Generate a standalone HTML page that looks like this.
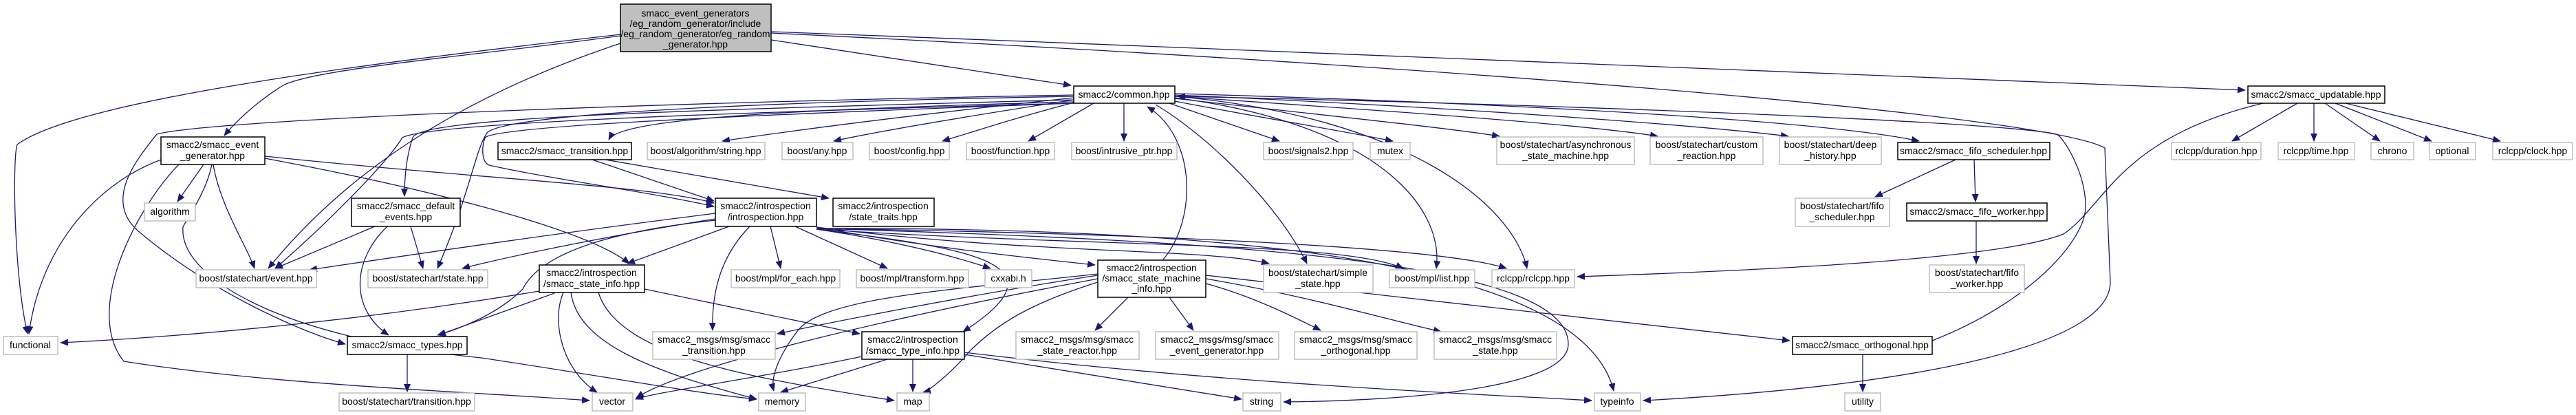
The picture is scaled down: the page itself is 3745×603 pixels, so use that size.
<!DOCTYPE html>
<html><head><meta charset="utf-8"><style>
html,body{margin:0;padding:0;background:#fff}
svg{display:block}
text{font-family:"Liberation Sans",sans-serif;font-size:14px;fill:#000;text-anchor:middle}
.e{fill:none;stroke:#191970;stroke-width:1.3;marker-end:url(#a)}
.n{fill:#fff;stroke:#bfbfbf;stroke-width:1.5}
.d{fill:#fff;stroke:#000;stroke-width:1.5}
</style></head><body>
<svg width="3745" height="603" viewBox="0 0 3745 603" xmlns="http://www.w3.org/2000/svg">
<defs><marker id="a" markerWidth="12" markerHeight="10" refX="11" refY="5" orient="auto" markerUnits="userSpaceOnUse"><path d="M0,0 L12,5 L0,10 z" fill="#191970"/></marker></defs>
<g>
<path class="e" d="M902,50 C600,85 120,140 25,210 C18,230 20,400 40,485"/>
<path class="e" d="M902,52 C700,80 450,100 410,125 C370,150 340,180 326,197"/>
<path class="e" d="M902,63 C700,130 520,230 390,390"/>
<path class="e" d="M1121,58 L1557,124"/>
<path class="e" d="M1121,46 C2000,80 3000,115 3264,131"/>
<path class="e" d="M1121,48 C2200,100 2980,170 3060,215 L3068,410 C3068,500 2800,560 2389,582"/>
<path class="e" d="M1561,142 C1300,170 1150,190 1050,205"/>
<path class="e" d="M1561,145 C1400,170 1280,190 1212,205"/>
<path class="e" d="M1565,148 C1480,170 1420,190 1370,205"/>
<path class="e" d="M1590,150 L1495,205"/>
<path class="e" d="M1634,150 L1634,205"/>
<path class="e" d="M1700,150 L1860,205"/>
<path class="e" d="M1708,147 C1800,165 1950,190 2025,205"/>
<path class="e" d="M1708,143 C1900,165 2100,185 2180,198"/>
<path class="e" d="M1708,140 C2000,160 2300,180 2410,198"/>
<path class="e" d="M1708,138 C2100,155 2450,180 2600,198"/>
<path class="e" d="M1708,136 C2200,150 2650,175 2790,205"/>
<path class="e" d="M1680,152 C1760,200 1860,300 1900,383"/>
<path class="e" d="M1708,142 C2000,180 2100,300 2088,390"/>
<path class="e" d="M1708,140 C2050,170 2200,300 2220,390"/>
<path class="e" d="M1691,377 C1740,320 1740,200 1668,155"/>
<path class="e" d="M2809,495 C2950,440 3032,350 3032,300 C3032,250 3000,200 2990,195 C2900,175 2200,150 1712,140"/>
<path class="e" d="M3290,150 C3080,200 3060,300 3000,340 C2900,380 2500,395 2293,402"/>
<path class="e" d="M3340,150 L3245,205"/>
<path class="e" d="M3364,150 L3364,205"/>
<path class="e" d="M3380,150 L3460,205"/>
<path class="e" d="M3395,150 L3535,205"/>
<path class="e" d="M3410,150 L3635,205"/>
<path class="e" d="M2843,232 L2726,286"/>
<path class="e" d="M2870,232 L2872,293"/>
<path class="e" d="M2873,321 L2873,383"/>
<path class="e" d="M1561,148 C1100,160 900,175 885,203"/>
<path class="e" d="M1561,145 C1000,160 610,170 600,200 C590,230 588,260 588,285"/>
<path class="e" d="M1561,150 C1000,165 620,180 585,200 C560,240 470,330 400,390"/>
<path class="e" d="M1561,140 C1000,150 730,170 708,193 C690,220 684,280 636,390"/>
<path class="e" d="M1561,138 C900,150 300,175 228,195 C200,230 150,290 200,335 C300,420 430,480 502,500"/>
<path class="e" d="M1561,150 C1000,170 720,185 705,200 C700,215 700,235 711,240 C800,260 950,280 1038,300"/>
<path class="e" d="M880,232 L1205,288"/>
<path class="e" d="M861,232 L1038,292"/>
<path class="e" d="M240,230 C150,260 60,350 42,485"/>
<path class="e" d="M296,239 L258,293"/>
<path class="e" d="M310,239 C320,300 360,360 370,390"/>
<path class="e" d="M260,239 C200,300 120,450 180,525 C400,560 700,570 857,582"/>
<path class="e" d="M308,239 C300,280 270,320 266,330 C260,400 400,490 700,520 C900,550 1000,570 1100,580"/>
<path class="e" d="M385,227 C700,260 950,270 1038,295"/>
<path class="e" d="M385,230 C600,270 850,330 915,383"/>
<path class="e" d="M545,329 L400,390"/>
<path class="e" d="M597,329 L615,390"/>
<path class="e" d="M563,329 C510,380 510,450 565,487"/>
<path class="e" d="M1040,310 C800,340 600,370 450,392"/>
<path class="e" d="M1040,318 C900,340 750,370 672,390"/>
<path class="e" d="M1060,329 L912,383"/>
<path class="e" d="M1120,329 L1135,390"/>
<path class="e" d="M1156,329 L1290,390"/>
<path class="e" d="M1187,333 C1300,350 1380,370 1440,390"/>
<path class="e" d="M1187,330 C1350,360 1500,375 1592,385"/>
<path class="e" d="M1187,330 C1500,370 1750,360 1845,383"/>
<path class="e" d="M1187,333 C1600,360 1950,350 2040,390"/>
<path class="e" d="M1187,332 C1700,340 2100,360 2190,390"/>
<path class="e" d="M1090,329 C1040,380 1035,440 1036,480"/>
<path class="e" d="M1187,333 C1400,360 1560,380 1400,482"/>
<path class="e" d="M1040,320 C850,340 780,380 760,420 C720,460 660,480 636,487"/>
<path class="e" d="M806,426 L637,487"/>
<path class="e" d="M1187,332 C1800,350 2280,380 2280,500 C2280,570 2000,583 1866,584"/>
<path class="e" d="M1187,332 C1800,330 2300,380 2346,568"/>
<path class="e" d="M1596,400 C1400,430 1200,470 1130,485"/>
<path class="e" d="M1596,398 C1400,420 1200,430 1160,480 C1130,520 1120,550 1125,568"/>
<path class="e" d="M1596,410 C1500,440 1450,470 1410,510 C1380,545 1350,568 1342,570"/>
<path class="e" d="M1640,432 L1592,480"/>
<path class="e" d="M1700,432 L1735,480"/>
<path class="e" d="M1753,412 C1820,430 1880,460 1920,480"/>
<path class="e" d="M1753,405 C1900,430 2000,460 2095,482"/>
<path class="e" d="M1753,400 C2000,430 2400,470 2602,495"/>
<path class="e" d="M1596,405 C1300,460 1000,530 925,578"/>
<path class="e" d="M784,423 C500,470 250,490 88,498"/>
<path class="e" d="M819,425 C800,470 820,540 868,570"/>
<path class="e" d="M830,425 C840,500 950,540 1100,580"/>
<path class="e" d="M937,420 L1250,485"/>
<path class="e" d="M870,425 C900,520 1100,550 1300,582"/>
<path class="e" d="M592,515 L592,569"/>
<path class="e" d="M1290,522 L1135,570"/>
<path class="e" d="M1327,522 L1327,569"/>
<path class="e" d="M1253,518 C1100,550 950,570 924,580"/>
<path class="e" d="M1402,515 L1805,580"/>
<path class="e" d="M1402,512 C1800,560 2200,575 2314,582"/>
<path class="e" d="M2708,515 L2708,569"/>
</g>
<g>
<rect x="902" y="6" width="219" height="69" fill="#bfbfbf" stroke="#000" stroke-width="1.5"/>
<text x="1011" y="24">smacc_event_generators</text><text x="1011" y="39">/eg_random_generator/include</text><text x="1011" y="54">/eg_random_generator/eg_random</text><text x="1011" y="69">_generator.hpp</text>
<rect class="d" x="234" y="199" width="151" height="40"/><text x="309" y="215">smacc2/smacc_event</text><text x="309" y="231">_generator.hpp</text>
<rect class="d" x="724" y="207" width="194" height="25"/><text x="821" y="224">smacc2/smacc_transition.hpp</text>
<rect class="d" x="511" y="288" width="158" height="41"/><text x="590" y="304">smacc2/smacc_default</text><text x="590" y="320">_events.hpp</text>
<rect class="n" x="210" y="295" width="74" height="26"/><text x="247" y="312">algorithm</text>
<rect class="n" x="285" y="392" width="175" height="26"/><text x="372" y="409">boost/statechart/event.hpp</text>
<rect class="n" x="535" y="392" width="174" height="26"/><text x="622" y="409">boost/statechart/state.hpp</text>
<rect class="d" x="784" y="385" width="153" height="40"/><text x="860" y="401">smacc2/introspection</text><text x="860" y="417">/smacc_state_info.hpp</text>
<rect class="n" x="5" y="489" width="79" height="26"/><text x="44" y="506">functional</text>
<rect class="d" x="505" y="489" width="174" height="26"/><text x="592" y="506">smacc2/smacc_types.hpp</text>
<rect class="n" x="493" y="571" width="197" height="26"/><text x="591" y="588">boost/statechart/transition.hpp</text>
<rect class="n" x="861" y="571" width="59" height="26"/><text x="890" y="588">vector</text>
<rect class="d" x="1561" y="125" width="147" height="25"/><text x="1634" y="142">smacc2/common.hpp</text>
<rect class="n" x="941" y="207" width="171" height="25"/><text x="1026" y="224">boost/algorithm/string.hpp</text>
<rect class="n" x="1137" y="207" width="103" height="25"/><text x="1188" y="224">boost/any.hpp</text>
<rect class="n" x="1264" y="207" width="116" height="25"/><text x="1322" y="224">boost/config.hpp</text>
<rect class="n" x="1405" y="207" width="128" height="25"/><text x="1469" y="224">boost/function.hpp</text>
<rect class="n" x="1558" y="207" width="153" height="25"/><text x="1634" y="224">boost/intrusive_ptr.hpp</text>
<rect class="d" x="1040" y="288" width="147" height="41"/><text x="1113" y="304">smacc2/introspection</text><text x="1113" y="320">/introspection.hpp</text>
<rect class="d" x="1211" y="288" width="147" height="41"/><text x="1284" y="304">smacc2/introspection</text><text x="1284" y="320">/state_traits.hpp</text>
<rect class="n" x="1063" y="392" width="158" height="26"/><text x="1142" y="409">boost/mpl/for_each.hpp</text>
<rect class="n" x="1245" y="392" width="163" height="26"/><text x="1326" y="409">boost/mpl/transform.hpp</text>
<rect class="n" x="1432" y="392" width="68" height="26"/><text x="1466" y="409">cxxabi.h</text>
<rect class="d" x="1596" y="378" width="157" height="54"/><text x="1674" y="394">smacc2/introspection</text><text x="1674" y="409">/smacc_state_machine</text><text x="1674" y="424">_info.hpp</text>
<rect class="n" x="949" y="482" width="178" height="40"/><text x="1038" y="498">smacc2_msgs/msg/smacc</text><text x="1038" y="514">_transition.hpp</text>
<rect class="d" x="1253" y="482" width="149" height="40"/><text x="1327" y="498">smacc2/introspection</text><text x="1327" y="514">/smacc_type_info.hpp</text>
<rect class="n" x="1477" y="482" width="179" height="40"/><text x="1566" y="498">smacc2_msgs/msg/smacc</text><text x="1566" y="514">_state_reactor.hpp</text>
<rect class="n" x="1680" y="482" width="179" height="40"/><text x="1769" y="498">smacc2_msgs/msg/smacc</text><text x="1769" y="514">_event_generator.hpp</text>
<rect class="n" x="1103" y="571" width="68" height="26"/><text x="1137" y="588">memory</text>
<rect class="n" x="1304" y="571" width="47" height="26"/><text x="1327" y="588">map</text>
<rect class="n" x="1807" y="571" width="55" height="26"/><text x="1834" y="588">string</text>
<rect class="n" x="1837" y="207" width="130" height="25"/><text x="1902" y="224">boost/signals2.hpp</text>
<rect class="n" x="1992" y="207" width="58" height="25"/><text x="2021" y="224">mutex</text>
<rect class="n" x="2176" y="199" width="200" height="40"/><text x="2276" y="215">boost/statechart/asynchronous</text><text x="2276" y="231">_state_machine.hpp</text>
<rect class="n" x="2399" y="199" width="164" height="40"/><text x="2481" y="215">boost/statechart/custom</text><text x="2481" y="231">_reaction.hpp</text>
<rect class="n" x="2587" y="199" width="148" height="40"/><text x="2661" y="215">boost/statechart/deep</text><text x="2661" y="231">_history.hpp</text>
<rect class="d" x="2759" y="207" width="221" height="25"/><text x="2869" y="224">smacc2/smacc_fifo_scheduler.hpp</text>
<rect class="n" x="2610" y="288" width="137" height="41"/><text x="2678" y="304">boost/statechart/fifo</text><text x="2678" y="320">_scheduler.hpp</text>
<rect class="d" x="2772" y="295" width="204" height="26"/><text x="2874" y="312">smacc2/smacc_fifo_worker.hpp</text>
<rect class="n" x="1837" y="385" width="159" height="40"/><text x="1916" y="401">boost/statechart/simple</text><text x="1916" y="417">_state.hpp</text>
<rect class="n" x="2020" y="392" width="124" height="26"/><text x="2082" y="409">boost/mpl/list.hpp</text>
<rect class="n" x="2169" y="392" width="120" height="26"/><text x="2229" y="409">rclcpp/rclcpp.hpp</text>
<rect class="n" x="1882" y="482" width="178" height="40"/><text x="1971" y="498">smacc2_msgs/msg/smacc</text><text x="1971" y="514">_orthogonal.hpp</text>
<rect class="n" x="2085" y="482" width="178" height="40"/><text x="2174" y="498">smacc2_msgs/msg/smacc</text><text x="2174" y="514">_state.hpp</text>
<rect class="d" x="2606" y="489" width="203" height="26"/><text x="2707" y="506">smacc2/smacc_orthogonal.hpp</text>
<rect class="n" x="2318" y="571" width="67" height="26"/><text x="2351" y="588">typeinfo</text>
<rect class="n" x="2682" y="571" width="52" height="26"/><text x="2708" y="588">utility</text>
<rect class="d" x="3268" y="125" width="199" height="25"/><text x="3367" y="142">smacc2/smacc_updatable.hpp</text>
<rect class="n" x="3157" y="207" width="130" height="25"/><text x="3222" y="224">rclcpp/duration.hpp</text>
<rect class="n" x="3312" y="207" width="111" height="25"/><text x="3367" y="224">rclcpp/time.hpp</text>
<rect class="n" x="3447" y="207" width="62" height="25"/><text x="3478" y="224">chrono</text>
<rect class="n" x="3532" y="207" width="67" height="25"/><text x="3565" y="224">optional</text>
<rect class="n" x="3624" y="207" width="116" height="25"/><text x="3682" y="224">rclcpp/clock.hpp</text>
<rect class="n" x="2805" y="385" width="138" height="40"/><text x="2874" y="401">boost/statechart/fifo</text><text x="2874" y="417">_worker.hpp</text>
</g>
</svg>
</body></html>
